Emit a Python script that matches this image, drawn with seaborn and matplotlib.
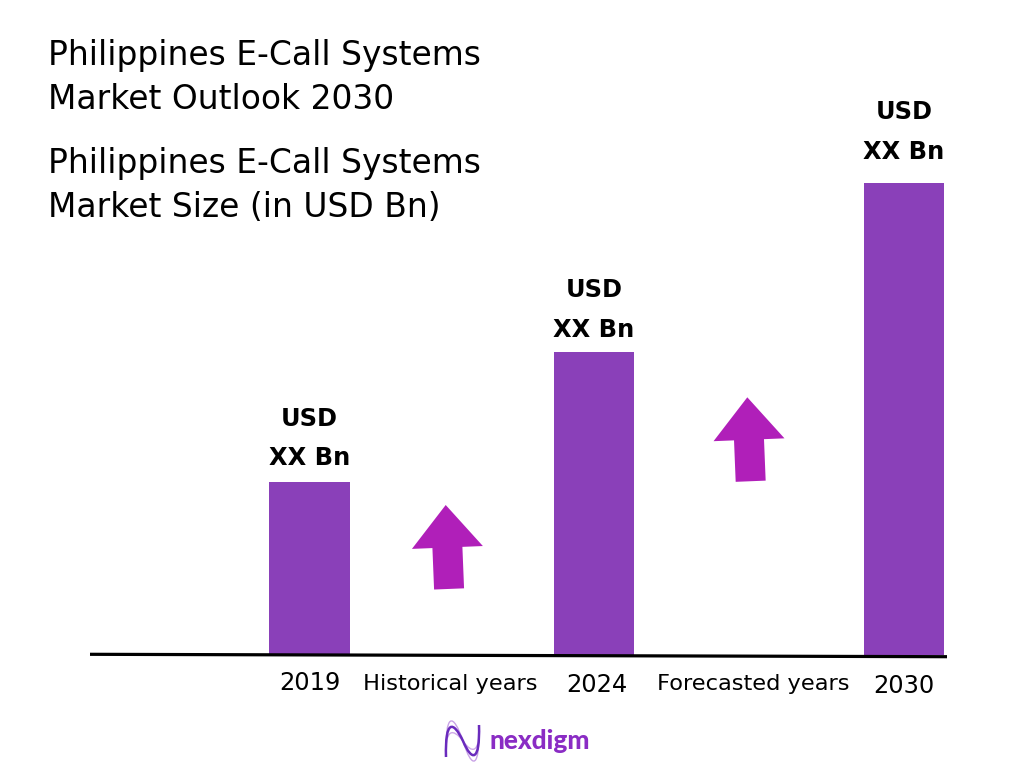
import numpy as np
import pandas as pd
import seaborn as sns
import matplotlib
matplotlib.use("Agg")
import matplotlib.pyplot as plt
from matplotlib.patches import Polygon, PathPatch
from matplotlib.path import Path

years = ["2019", "2024", "2030"]
market_size = [173, 303, 472]
bar_labels = ["USD\nXX Bn", "USD\nXX Bn", "USD\nXX Bn"]
period_labels = ["Historical years", "Forecasted years"]
title_lines = ["Philippines E-Call Systems\nMarket Outlook 2030",
               "Philippines E-Call Systems\nMarket Size (in USD Bn)"]

BAR = "#8a40b9"
ARROW = "#b01fb9"
BASE = 655

sns.set_theme(style="white")
plt.rcParams["font.family"] = ["DejaVu Sans"]

fig = plt.figure(figsize=(10.24, 7.68), dpi=100, facecolor="white")
ax = fig.add_axes([0, 0, 1, 1])

centers = [309.5, 594, 904]
df = pd.DataFrame({"pos": centers, "value": market_size})
sns.barplot(data=df, x="pos", y="value", native_scale=True, color=BAR,
            saturation=1, width=80.5 / 284.5, ax=ax, linewidth=0)

ax.set_xlim(0, 1024)
ax.set_ylim(BASE - 768, BASE)
ax.set_xlabel("")
ax.set_ylabel("")
ax.set_yticks([])
ax.set_xticks([])
for s in ax.spines.values():
    s.set_visible(False)


def py(y):
    """Layout helper: pixel row from the top to axis units."""
    return BASE - y


# baseline
ax.plot([90, 947], [py(654.3), py(656.7)], color="black", lw=2.3,
        solid_capstyle="butt", zorder=3)

# value labels (gaps above each bar differ slightly in the layout)
upper_gap = [63, 62, 71]
lower_gap = [24, 22, 31]
for c, v, lab, ug, lg in zip(centers, market_size, bar_labels, upper_gap, lower_gap):
    top, bottom = lab.split("\n")
    ax.text(c, v + ug, top, ha="center", va="center", fontsize=17.4,
            fontweight="bold", color="black")
    ax.text(c, v + lg, bottom, ha="center", va="center", fontsize=17.4,
            fontweight="bold", color="black")

# axis labels
for x, y, t in zip([309.5, 597, 904], [683, 684.5, 686], years):
    ax.text(x, py(y), t, ha="center", va="center", fontsize=17.4, color="black")
for x, t in zip([450.5, 753.5], period_labels):
    ax.text(x, py(683.5), t, ha="center", va="center", fontsize=16.2, color="black")

# titles
ax.text(48, py(55.5), title_lines[0].split("\n")[0], fontsize=23.7, va="center", color="black")
ax.text(48, py(99.5), title_lines[0].split("\n")[1], fontsize=23.7, va="center", color="black")
ax.text(48, py(163.5), title_lines[1].split("\n")[0], fontsize=23.7, va="center", color="black")
ax.text(48, py(207.5), title_lines[1].split("\n")[1], fontsize=23.7, va="center", color="black")


# arrows
def up_arrow(tip_x, tip_y, rot_deg=2.3, w=71, head=42.5, shaft=30, total=84):
    local = np.array([[0, 0], [-w / 2, -head], [-shaft / 2, -head], [-shaft / 2, -total],
                      [shaft / 2, -total], [shaft / 2, -head], [w / 2, -head]])
    a = np.deg2rad(rot_deg)
    R = np.array([[np.cos(a), -np.sin(a)], [np.sin(a), np.cos(a)]])
    pts = local @ R.T + [tip_x, py(tip_y)]
    ax.add_patch(Polygon(pts, closed=True, facecolor=ARROW, edgecolor="none", zorder=3))


up_arrow(445.7, 505)
up_arrow(747.3, 397.3)


# logo
def wave(top_c, bot_c, color, lw):
    v = [(446, py(757)), (445, py(top_c)), (453, py(top_c)), (463, py(741)),
         (472, py(bot_c)), (480, py(bot_c)), (479, py(725))]
    c = [Path.MOVETO] + [Path.CURVE4] * 6
    ax.add_patch(PathPatch(Path(v, c), facecolor="none", edgecolor=color, lw=lw, zorder=3))


wave(712, 770, "#c9a3e6", 1.0)
wave(728, 754, "#cfa8e8", 1.0)
wave(720, 762, "#6a2bbd", 1.8)
ax.text(489.5, py(741), "nexdigm", fontsize=18.8, fontweight="black", va="center",
        color="#8a2cc4", family=["Lato", "DejaVu Sans"])

fig.savefig("out.png", dpi=100)
